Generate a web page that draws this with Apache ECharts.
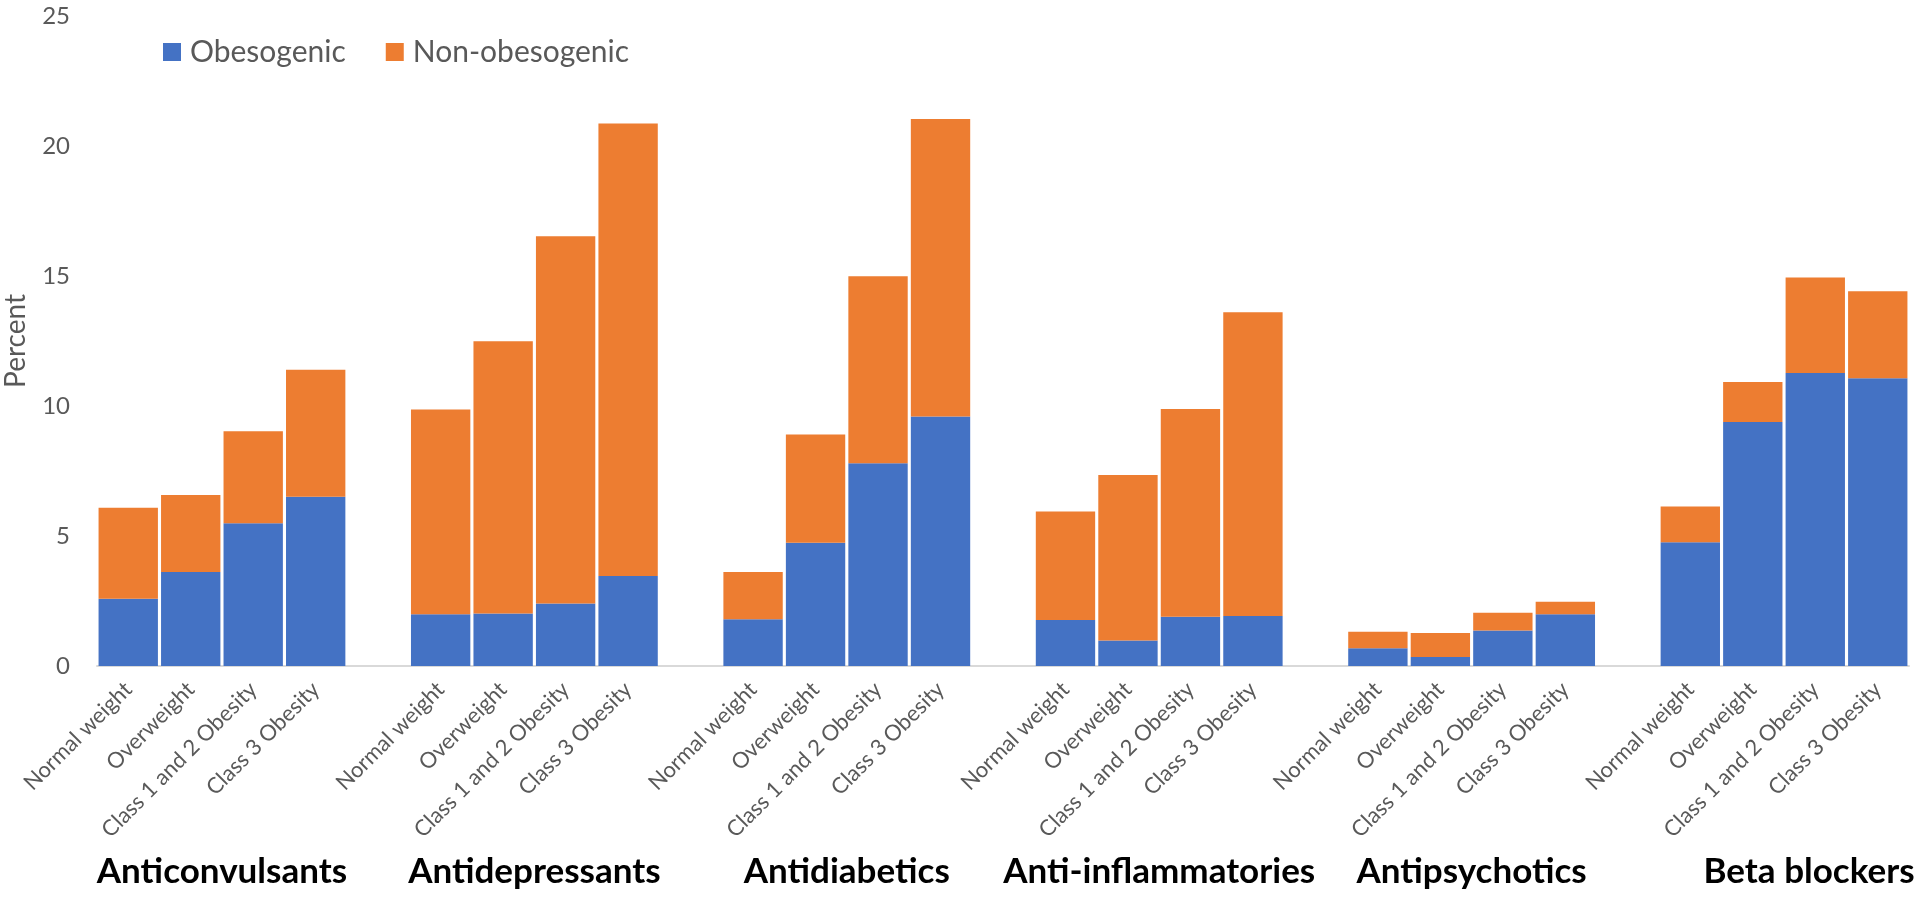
<!DOCTYPE html>
<html>
<head>
<meta charset="utf-8">
<script src="https://cdn.jsdelivr.net/npm/echarts@6/dist/echarts.min.js"></script>
<style>
html,body{margin:0;padding:0;background:#fff;}
#chart{width:1920px;height:897px;}
</style>
</head>
<body>
<div id="chart"></div>
<script>
const weightClasses = ['Normal weight', 'Overweight', 'Class 1 and 2 Obesity', 'Class 3 Obesity'];
const drugClasses = ['Anticonvulsants', 'Antidepressants', 'Antidiabetics', 'Anti-inflammatories', 'Antipsychotics', 'Beta blockers'];
const obesogenic = [
  [2.59, 3.62, 5.49, 6.51],
  [1.99, 2.02, 2.40, 3.46],
  [1.80, 4.74, 7.80, 9.60],
  [1.77, 0.98, 1.89, 1.92],
  [0.68, 0.35, 1.37, 1.99],
  [4.76, 9.38, 11.27, 11.07]
];
const nonObesogenic = [
  [3.50, 2.96, 3.54, 4.88],
  [7.88, 10.47, 14.13, 17.41],
  [1.82, 4.16, 7.19, 11.44],
  [4.17, 6.37, 7.99, 11.69],
  [0.64, 0.92, 0.68, 0.48],
  [1.37, 1.54, 3.67, 3.34]
];
const yTicks = [0, 5, 10, 15, 20, 25];

const xData = [], obesData = [], nonData = [], groupPos = {};
drugClasses.forEach((d, i) => {
  groupPos[xData.length + 2] = d;
  weightClasses.forEach((w, j) => {
    xData.push(w);
    obesData.push(obesogenic[i][j]);
    nonData.push(nonObesogenic[i][j]);
  });
  if (i < drugClasses.length - 1) {
    xData.push('');
    obesData.push('-');
    nonData.push('-');
  }
});

const chart = echarts.init(document.getElementById('chart'));
const FONT = 'Lato';
chart.setOption({
  animation: false,
  textStyle: { fontFamily: FONT },
  legend: {
    left: 158, top: 32,
    itemWidth: 18, itemHeight: 18, itemGap: 40,
    icon: 'rect',
    textStyle: { fontSize: 30, color: '#595959', fontFamily: FONT, padding: [0, 0, 0, 4] },
    data: ['Obesogenic', 'Non-obesogenic']
  },
  grid: { left: 97, right: 11, top: 16, bottom: 231, containLabel: false, outerBoundsMode: 'none' },
  xAxis: [{
    type: 'category',
    data: xData,
    axisLine: { lineStyle: { color: '#D9D9D9', width: 2 } },
    axisTick: { show: false },
    axisLabel: { interval: 0, rotate: 45, margin: 20, fontSize: 22, color: '#595959', fontFamily: FONT }
  }, {
    type: 'value',
    position: 'bottom',
    offset: 180,
    min: 0, max: xData.length, interval: 1,
    axisLine: { show: false }, axisTick: { show: false }, splitLine: { show: false },
    axisLabel: {
      margin: 8,
      showMinLabel: true, showMaxLabel: true,
      formatter: v => groupPos[v] ? (groupPos[v] === 'Beta blockers' ? '{r|' + groupPos[v] + '}' : groupPos[v]) : '',
      fontSize: 35, fontWeight: 'bold', color: '#000', fontFamily: FONT,
      rich: { r: { fontSize: 35, fontWeight: 'bold', color: '#000', fontFamily: FONT, padding: [0, 0, 0, 50] } }
    }
  }],
  yAxis: {
    type: 'value', min: 0, max: 25, interval: 5,
    name: 'Percent', nameLocation: 'middle', nameRotate: 90, nameGap: 67,
    nameTextStyle: { fontSize: 28, color: '#595959', fontFamily: FONT },
    axisLine: { show: false }, axisTick: { show: false }, splitLine: { show: false },
    axisLabel: { fontSize: 24, color: '#595959', margin: 27, fontFamily: FONT,
      formatter: v => yTicks.includes(v) ? String(v) : '' }
  },
  series: [{
    name: 'Obesogenic', type: 'bar', stack: 'total', xAxisIndex: 0,
    barCategoryGap: '5%',
    itemStyle: { color: '#4472C4' },
    data: obesData
  }, {
    name: 'Non-obesogenic', type: 'bar', stack: 'total', xAxisIndex: 0,
    barCategoryGap: '5%',
    itemStyle: { color: '#ED7D31' },
    data: nonData
  }]
});
</script>
</body>
</html>
